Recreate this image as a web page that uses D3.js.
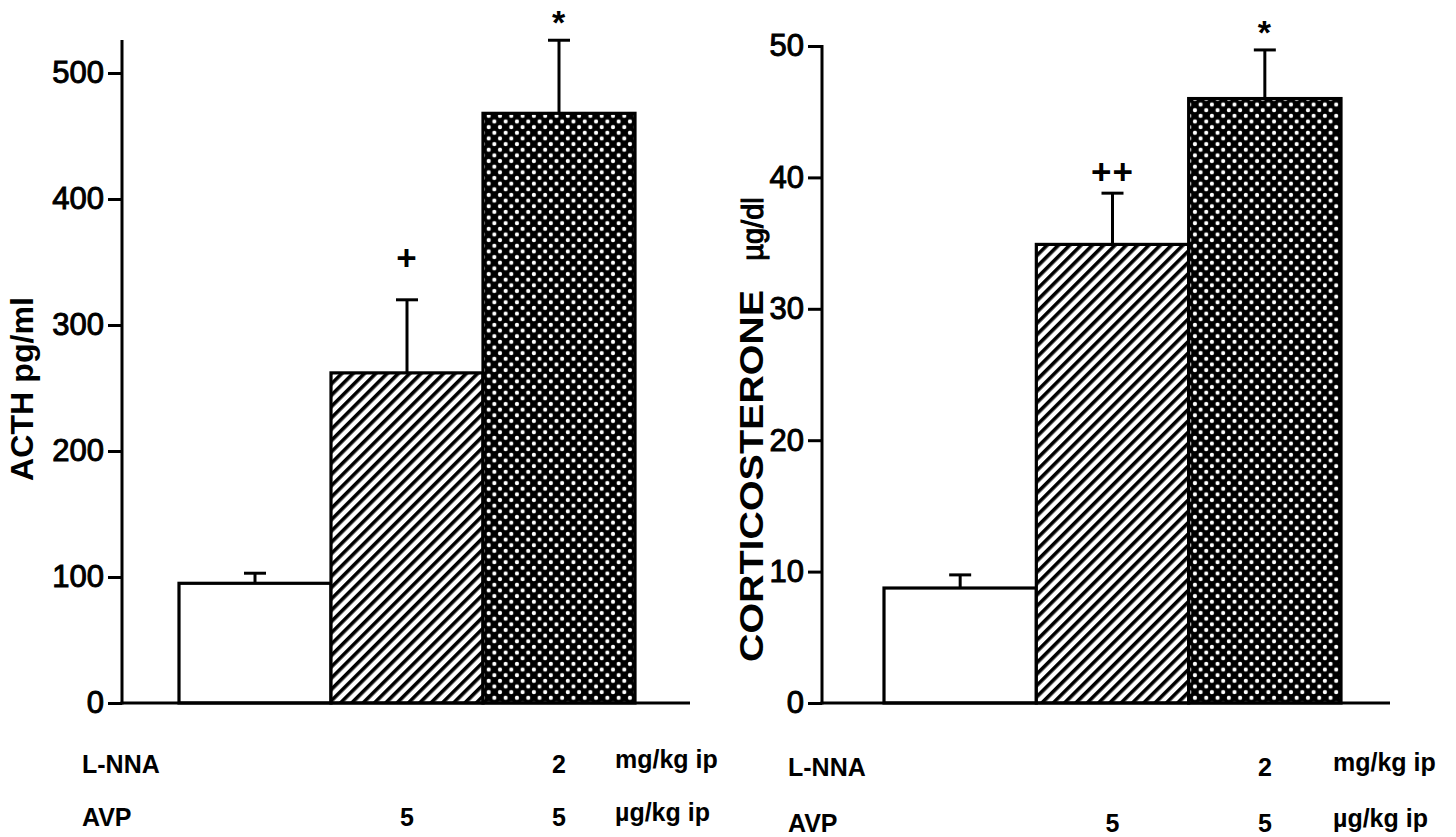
<!DOCTYPE html>
<html>
<head>
<meta charset="utf-8">
<script src="https://cdn.jsdelivr.net/npm/d3@7"></script>
<style>
  body { margin: 0; background: #fff; }
  svg { display: block; }
  text { font-family: "Liberation Sans", Arial, Helvetica, sans-serif; fill: #000; }
  .tick text { font-size: 31px; stroke: #000; stroke-width: 1px; }
  .lab { font-weight: bold; }
</style>
</head>
<body>
<div id="chart"></div>
<script>
// groups and values
var groups = ["Control", "AVP", "L-NNA + AVP"];
var acth = [95, 262, 468];
var acthErr = [8, 58, 58];
var acthSig = ["", "+", "*"];
var cort = [8.75, 34.9, 46.0];
var cortErr = [1.0, 3.9, 3.7];
var cortSig = ["", "++", "*"];
var lnnaDose = ["", "", "2"];
var avpDose = ["", "5", "5"];
var acthTicks = [0, 100, 200, 300, 400, 500];
var cortTicks = [0, 10, 20, 30, 40, 50];
var fills = ["#fff", "url(#hatch)", "url(#dots)"];

var svg = d3.select("#chart").append("svg").attr("width", 1456).attr("height", 837)

var defs = svg.append("defs")
var hatch = defs.append("pattern").attr("id", "hatch").attr("patternUnits", "userSpaceOnUse")
  .attr("width", 8).attr("height", 8).attr("patternTransform", "rotate(45)")
hatch.append("rect").attr("width", 8).attr("height", 8).attr("fill", "#fff")
hatch.append("rect").attr("x", 0).attr("width", 3.6).attr("height", 8).attr("fill", "#000")

var dots = defs.append("pattern").attr("id", "dots").attr("patternUnits", "userSpaceOnUse")
  .attr("width", 11.3).attr("height", 11.3)
dots.append("rect").attr("width", 11.3).attr("height", 11.3).attr("fill", "#000")
dots.append("circle").attr("cx", 2.8).attr("cy", 2.8).attr("r", 2.1).attr("fill", "#fff")
dots.append("circle").attr("cx", 8.45).attr("cy", 8.45).attr("r", 2.1).attr("fill", "#fff")

function panel(opt) {
  var g = svg.append("g")
  var x = d3.scaleBand().domain(groups).range(opt.xr).padding(0)
  var y = d3.scaleLinear().domain(opt.dom).range([703, opt.top])
  var cx = function(i) { return x(groups[i]) + x.bandwidth() / 2 }

  // bars
  g.selectAll("rect.bar").data(opt.vals).enter().append("rect")
    .attr("class", "bar")
    .attr("x", function(d, i) { return x(groups[i]) })
    .attr("y", function(d) { return y(d) })
    .attr("width", x.bandwidth())
    .attr("height", function(d) { return y(0) - y(d) })
    .attr("fill", function(d, i) { return fills[i] })
    .attr("stroke", "#000").attr("stroke-width", 3.2)

  // error bars
  var eb = g.selectAll("g.err").data(opt.vals).enter().append("g").attr("class", "err")
  eb.append("line")
    .attr("x1", function(d, i) { return cx(i) }).attr("x2", function(d, i) { return cx(i) })
    .attr("y1", function(d) { return y(d) })
    .attr("y2", function(d, i) { return y(d + opt.err[i]) })
    .attr("stroke", "#000").attr("stroke-width", 3)
  eb.append("line")
    .attr("x1", function(d, i) { return cx(i) - 11 }).attr("x2", function(d, i) { return cx(i) + 11 })
    .attr("y1", function(d, i) { return y(d + opt.err[i]) })
    .attr("y2", function(d, i) { return y(d + opt.err[i]) })
    .attr("stroke", "#000").attr("stroke-width", 3)

  // significance marks
  g.selectAll("text.sig").data(opt.vals).enter().append("text")
    .attr("class", "lab sig")
    .attr("x", function(d, i) { return cx(i) })
    .attr("y", function(d, i) { return y(d + opt.err[i]) - (opt.sig[i] == "*" ? 6 : opt.plusOff) })
    .attr("text-anchor", "middle")
    .style("font-size", function(d, i) { return opt.sig[i] == "*" ? "34px" : "35px" })
    .style("letter-spacing", "1px")
    .text(function(d, i) { return opt.sig[i] })

  // axis
  var ax = g.append("g").attr("transform", "translate(" + opt.xa + ",0)")
    .call(d3.axisLeft(y).tickValues(opt.ticks).tickSize(14).tickPadding(4))
  ax.select(".domain").remove()
  ax.selectAll(".tick line").attr("stroke", "#000").attr("stroke-width", 3)
  g.append("line").attr("x1", opt.xa).attr("x2", opt.xa).attr("y1", opt.axTop).attr("y2", 704.5)
    .attr("stroke", "#000").attr("stroke-width", 3)
  g.append("line").attr("x1", opt.xa - 1.5).attr("x2", opt.xEnd).attr("y1", 703).attr("y2", 703)
    .attr("stroke", "#000").attr("stroke-width", 3)

  // y label
  g.append("text").attr("class", "lab")
    .attr("transform", "translate(" + opt.ylx + "," + opt.yly + ") rotate(-90)")
    .attr("text-anchor", "middle").style("font-size", opt.ylSize + "px")
    .attr("textLength", opt.ylLen).attr("lengthAdjust", "spacingAndGlyphs")
    .text(opt.ylab)
  if (opt.yunit) {
    g.append("text")
      .attr("transform", "translate(" + opt.ylx + "," + opt.yuy + ") rotate(-90)")
      .attr("text-anchor", "middle").style("font-size", "29px")
      .style("stroke", "#000").style("stroke-width", "1.1px")
      .text(opt.yunit)
  }

  // treatment rows
  var rows = [["L-NNA", lnnaDose, "mg/kg ip", opt.r1], ["AVP", avpDose, "\u00b5g/kg ip", opt.r2]]
  rows.forEach(function(r) {
    g.append("text").attr("class", "lab").attr("x", opt.rowX).attr("y", r[3])
      .style("font-size", "25px").text(r[0])
    g.selectAll(null).data(r[1]).enter().append("text").attr("class", "lab")
      .attr("x", function(d, i) { return cx(i) })
      .attr("y", r[3]).attr("text-anchor", "middle").style("font-size", "25px")
      .text(function(d) { return d })
    g.append("text").attr("class", "lab").attr("x", opt.unitX).attr("y", r[3] - 5)
      .style("font-size", "25px").text(r[2])
  })
}

panel({ xr: [179, 635], xa: 122, xEnd: 690, dom: [0, 500], top: 73, axTop: 40, vals: acth, err: acthErr,
  sig: acthSig, plusOff: 30, ticks: acthTicks, ylab: "ACTH pg/ml", ylSize: 31, ylLen: 184, ylx: 33, yly: 389,
  rowX: 82, unitX: 615, r1: 773, r2: 826 })
panel({ xr: [884, 1341], xa: 822, xEnd: 1390, dom: [0, 50], top: 46, axTop: 45, vals: cort, err: cortErr,
  sig: cortSig, plusOff: 9, ticks: cortTicks, ylab: "CORTICOSTERONE", ylSize: 34, ylLen: 372, ylx: 763, yly: 476,
  yunit: "\u00b5g/dl", yuy: 229, rowX: 788, unitX: 1333, r1: 776, r2: 832 })
</script>
</body>
</html>
